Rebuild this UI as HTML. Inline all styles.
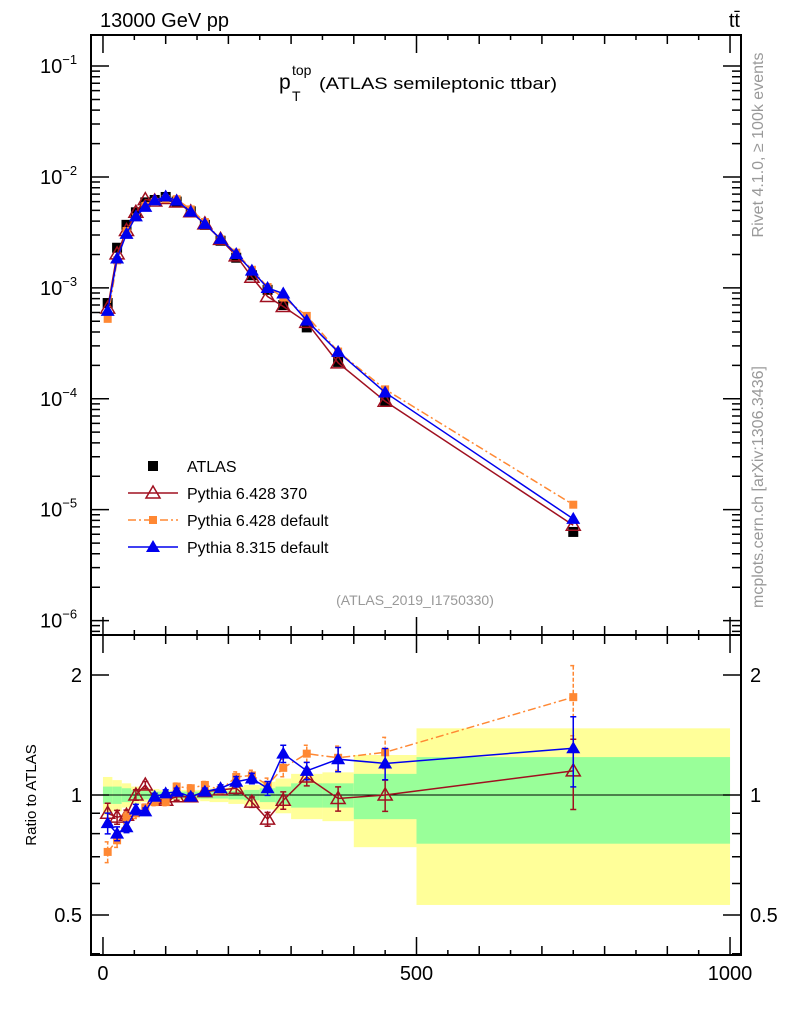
<!DOCTYPE html>
<html><head><meta charset="utf-8">
<style>
html,body{margin:0;padding:0;background:#fff;}
svg{display:block;font-family:"Liberation Sans",sans-serif;}
</style></head>
<body>
<svg id="c" width="786" height="1024" viewBox="0 0 786 1024" xmlns="http://www.w3.org/2000/svg">
<g id="bands"></g>
<g id="marks"></g>
<g id="axes"></g>
<text x="100" y="27" font-size="20">13000 GeV pp</text>
<text x="740" y="27" font-size="20" text-anchor="end">tt̄</text>
<g>
<text x="279" y="89" font-size="21">p</text>
<text x="292" y="75" font-size="14">top</text>
<text x="292" y="101" font-size="14">T</text>
<text x="319" y="89" font-size="17" textLength="238" lengthAdjust="spacingAndGlyphs">(ATLAS semileptonic ttbar)</text>
</g>
<text x="415" y="605" font-size="14" fill="#999" text-anchor="middle">(ATLAS_2019_I1750330)</text>
<text transform="translate(763,145) rotate(-90)" font-size="16" fill="#999" text-anchor="middle">Rivet 4.1.0, ≥ 100k events</text>
<text transform="translate(763,487) rotate(-90)" font-size="16" fill="#999" text-anchor="middle">mcplots.cern.ch [arXiv:1306.3436]</text>
<text transform="translate(36,795) rotate(-90)" font-size="15" text-anchor="middle">Ratio to ATLAS</text>
<g id="legend"></g>
</svg>
<script>
// ---- data ----
const binEdges = [0,15,30,45,60,75,90,110,125,155,170,200,225,250,275,300,350,400,500,1000];
const xCenters = [7.5,22.5,37.5,52.5,67.5,82.5,100,117.5,140,162.5,187.5,212.5,237.5,262.5,287.5,325,375,450,750];
const atlasValues = [7.3e-4,2.3e-3,3.7e-3,4.8e-3,5.9e-3,6.2e-3,6.6e-3,6.0e-3,4.9e-3,3.7e-3,2.66e-3,1.87e-3,1.3e-3,9.6e-4,7.0e-4,4.4e-4,2.15e-4,9.5e-5,6.3e-6];
const ratioPy6_370 = [0.90,0.88,0.89,1.00,1.06,0.98,0.97,0.99,0.99,1.02,1.03,1.04,0.96,0.87,0.97,1.11,0.98,1.00,1.15];
const ratioPy6_def = [0.72,0.77,0.88,0.90,0.93,0.96,0.96,1.05,1.04,1.06,1.03,1.11,1.12,1.06,1.17,1.27,1.24,1.28,1.76];
const ratioPy8_def = [0.85,0.80,0.83,0.92,0.91,0.99,1.01,1.02,0.99,1.02,1.04,1.08,1.10,1.04,1.27,1.15,1.23,1.20,1.31];
const mcRelErr = [0.06,0.04,0.03,0.03,0.02,0.02,0.02,0.02,0.02,0.02,0.02,0.03,0.03,0.04,0.05,0.05,0.07,0.09,0.2];
const totalRelErr = [0.11,0.09,0.07,0.05,0.04,0.035,0.03,0.03,0.03,0.035,0.04,0.05,0.06,0.08,0.10,0.13,0.14,0.26,0.47];
const statRelErr = [0.05,0.05,0.04,0.03,0.025,0.02,0.02,0.02,0.02,0.02,0.02,0.025,0.03,0.04,0.05,0.07,0.07,0.13,0.245];
const mainTickLabels = ["-1","-2","-3","-4","-5","-6"];
const ratioTickLabels = ["0.5","1","2"];
const xTickLabels = ["0","500","1000"];

// ---- geometry ----
const L=91, R=741, T=35, M=635, B=955;
const X0=-19.1, X1=1017.5;
const sx = v => L + (v-X0)/(X1-X0)*(R-L);
const LOGTOP=-0.72, LOGBOT=-6.13;
const sy = v => T + (LOGTOP-Math.log10(v))/(LOGTOP-LOGBOT)*(M-T);
const RTOP=Math.log2(2.52), RBOT=Math.log2(0.397);
const sr = v => M + (RTOP-Math.log2(v))/(RTOP-RBOT)*(B-M);
const NS="http://www.w3.org/2000/svg";
function mk(tag, parent, attrs){const e=document.createElementNS(NS,tag);for(const k in attrs)e.setAttribute(k,attrs[k]);parent.appendChild(e);return e;}
const bands=document.getElementById('bands'), marks=document.getElementById('marks'), axes=document.getElementById('axes'), legend=document.getElementById('legend');

for(let i=0;i<binEdges.length-1;i++){
  const x1=sx(binEdges[i]), x2=sx(binEdges[i+1]);
  let r=mk('rect',bands,{x:x1,y:sr(1+totalRelErr[i]),width:x2-x1,height:sr(1-totalRelErr[i])-sr(1+totalRelErr[i]),fill:'#ffff99'});
  
  
  let g=mk('rect',bands,{x:x1,y:sr(1+statRelErr[i]),width:x2-x1,height:sr(1-statRelErr[i])-sr(1+statRelErr[i]),fill:'#99ff99'});
  
  
}
let one=mk('line',marks,{x1:L,x2:R,y1:sr(1),y2:sr(1),stroke:'#000','stroke-width':1});



function marker(type,parent,x,y,color){
  let e;
  if(type==='sq') e=mk('rect',parent,{x:x-5,y:y-5,width:10,height:10,fill:color});
  else if(type==='osq') e=mk('rect',parent,{x:x-4,y:y-4,width:8,height:8,fill:color});
  else if(type==='otri') e=mk('polygon',parent,{points:`${x},${y-7} ${x-7},${y+5} ${x+7},${y+5}`,fill:'none',stroke:color,'stroke-width':1.5});
  else e=mk('polygon',parent,{points:`${x},${y-7} ${x-7},${y+5} ${x+7},${y+5}`,fill:color});
  return e;
}
const series=[
  {name:'pythia-6428-370',ratio:ratioPy6_370,color:'#a01020',m:'otri',dash:''},
  {name:'pythia-6428-default',ratio:ratioPy6_def,color:'#ff8833',m:'osq',dash:'8,3,2,3'},
  {name:'pythia-8315-default',ratio:ratioPy8_def,color:'#0000ee',m:'tri',dash:''}
];
atlasValues.forEach((v,i)=>{
  const e=marker('sq',marks,sx(xCenters[i]),sy(v),'#000');
  
  
});
series.forEach(s=>{
  const mainPts=xCenters.map((x,i)=>sx(x)+','+sy(atlasValues[i]*s.ratio[i])).join(' ');
  const ratPts=xCenters.map((x,i)=>sx(x)+','+sr(s.ratio[i])).join(' ');
  let p1=mk('polyline',marks,{points:mainPts,fill:'none',stroke:s.color,'stroke-width':1.5,'stroke-dasharray':s.dash});
  
  
  let p2=mk('polyline',marks,{points:ratPts,fill:'none',stroke:s.color,'stroke-width':1.5,'stroke-dasharray':s.dash});
  
  
  xCenters.forEach((x,i)=>{
    const px=sx(x), v=atlasValues[i]*s.ratio[i];
    const e=marker(s.m,marks,px,sy(v),s.color);
    
    
    const lo=s.ratio[i]*(1-mcRelErr[i]), hi=s.ratio[i]*(1+mcRelErr[i]);
    const eb=mk('path',marks,{d:`M${px},${sr(lo)}V${sr(hi)}M${px-3},${sr(lo)}h6M${px-3},${sr(hi)}h6`,stroke:s.color,'stroke-width':1.5,fill:'none','stroke-dasharray':s.dash?'4,2':''});
    
    
    const r=marker(s.m,marks,px,sr(s.ratio[i]),s.color);
    
    
  });
});

[[T,M],[M,B]].forEach(([a,b],k)=>{
  const f=mk('rect',axes,{x:L,y:a,width:R-L,height:b-a,fill:'none',stroke:'#000','stroke-width':2});
  
  
});
let tp='';
for(let v=0;v<=1000;v+=50){
  const x=sx(v), len=v%500===0?18:(v%100===0?9:5);
  tp+=`M${x},${T}v${len}M${x},${M}v-${len}M${x},${M}v${len}M${x},${B}v-${len}`;
}
for(let d=-7;d<=-1;d++){
  for(let k=1;k<10;k++){
    const v=k*Math.pow(10,d); if(v<Math.pow(10,LOGBOT)||v>Math.pow(10,LOGTOP)) continue;
    const y=sy(v), len=k===1?18:9;
    tp+=`M${L},${y}h${len}M${R},${y}h-${len}`;
  }
}
[0.4,0.5,0.6,0.7,0.8,0.9,1,2].forEach(v=>{
  const y=sr(v), len=(v===0.5||v===1||v===2)?18:9;
  tp+=`M${L},${y}h${len}M${R},${y}h-${len}`;
});
const tk=mk('path',axes,{d:tp,stroke:'#000','stroke-width':1.5,fill:'none'});


mainTickLabels.forEach(s=>{
  const y=sy(Math.pow(10,+s));
  const t=mk('text',axes,{x:40,y:y+7,'font-size':20});
  t.innerHTML=`10<tspan font-size="13" dy="-9">−${s.slice(1)}</tspan>`;
  
  
});
ratioTickLabels.forEach(s=>{
  const y=sr(+s)+7;
  const a=mk('text',axes,{x:82,y:y,'font-size':20,'text-anchor':'end'}); a.textContent=s;
  
  
  const b=mk('text',axes,{x:750,y:y,'font-size':20}); b.textContent=s;
  
  
});
xTickLabels.forEach(s=>{
  const t=mk('text',axes,{x:sx(+s),y:980,'font-size':20,'text-anchor':'middle'}); t.textContent=s;
  
  
});
const leg=[['ATLAS','sq','#000',''],['Pythia 6.428 370','otri','#a01020',''],['Pythia 6.428 default','osq','#ff8833','8,3,2,3'],['Pythia 8.315 default','tri','#0000ee','']];
leg.forEach((l,i)=>{
  const y=466+i*27;
  if(i>0){const ln=mk('line',legend,{x1:128,x2:178,y1:y,y2:y,stroke:l[2],'stroke-width':1.5,'stroke-dasharray':l[3]});
    
    }
  const m=marker(l[1],legend,153,y,l[2]);
  
  
  const t=mk('text',legend,{x:187,y:y+6,'font-size':16}); t.textContent=l[0];
  
  
});
</script>
</body></html>
